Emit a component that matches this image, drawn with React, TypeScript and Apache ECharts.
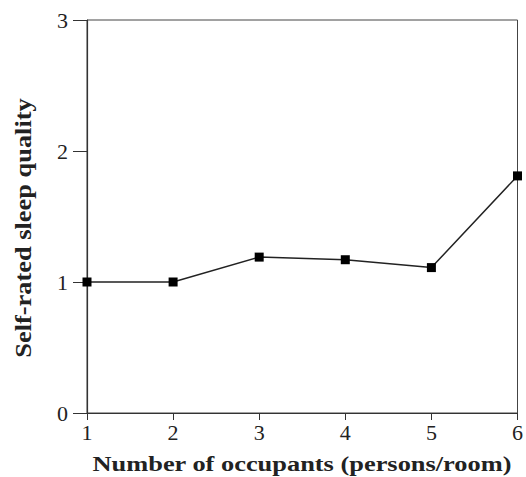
import React, { useEffect, useRef } from "react";
import * as echarts from "echarts";

// Occupancy (persons per room) vs. mean self-rated sleep quality score
const occupants = [1, 2, 3, 4, 5, 6];
const sleepQuality = [1.0, 1.0, 1.19, 1.17, 1.11, 1.81];
const yTicks = [0, 1, 2, 3];

const xTitle = "Number of occupants (persons/room)";
const yTitle = "Self-rated sleep quality";

const serif = "'Liberation Serif', 'Times New Roman', serif";
const ink = "#222";

export default function App() {
  const ref = useRef<HTMLDivElement>(null);

  useEffect(() => {
    if (!ref.current) return;
    const chart = echarts.init(ref.current, undefined, { renderer: "svg" });
    chart.setOption({
      animation: false,
      backgroundColor: "#fff",
      grid: {
        left: 87,
        right: 6,
        top: 20,
        bottom: 64,
        show: true,
        borderColor: "#444",
        borderWidth: 1,
        backgroundColor: "transparent",
      },
      // Axis titles are set as wide, bold serif type
      graphic: [
        {
          type: "text",
          x: 302,
          y: 464,
          scaleX: 1.32,
          style: {
            text: xTitle,
            fontFamily: serif,
            fontWeight: "bold",
            fontSize: 20,
            fill: ink,
            align: "center",
            verticalAlign: "middle",
          },
        },
        {
          type: "text",
          x: 23,
          y: 228,
          rotation: Math.PI / 2,
          scaleX: 1.1,
          style: {
            text: yTitle,
            fontFamily: serif,
            fontWeight: "bold",
            fontSize: 24,
            fill: ink,
            align: "center",
            verticalAlign: "middle",
          },
        },
      ],
      xAxis: {
        type: "value",
        min: occupants[0],
        max: occupants[occupants.length - 1],
        interval: 1,
        axisLine: { lineStyle: { color: "#333", width: 1.2 } },
        axisTick: { show: true, length: 7, lineStyle: { color: "#333" } },
        axisLabel: {
          fontFamily: serif,
          fontSize: 22,
          color: ink,
          margin: 8,
        },
        splitLine: { show: false },
      },
      yAxis: {
        type: "value",
        min: yTicks[0],
        max: yTicks[yTicks.length - 1],
        interval: 1,
        axisLine: { show: true, lineStyle: { color: "#333", width: 1.2 } },
        axisTick: { show: true, length: 14, lineStyle: { color: "#333" } },
        axisLabel: { fontFamily: serif, fontSize: 22, color: ink, margin: 19 },
        splitLine: { show: false },
      },
      series: [
        {
          type: "line",
          data: occupants.map((x, i) => [x, sleepQuality[i]]),
          symbol: "rect",
          symbolSize: 9,
          itemStyle: { color: "#000" },
          lineStyle: { color: ink, width: 1.5 },
          clip: false,
        },
      ],
    });
    return () => chart.dispose();
  }, []);

  return (
    <div
      ref={ref}
      style={{ position: "fixed", left: 0, top: 0, width: 526, height: 477 }}
    />
  );
}
